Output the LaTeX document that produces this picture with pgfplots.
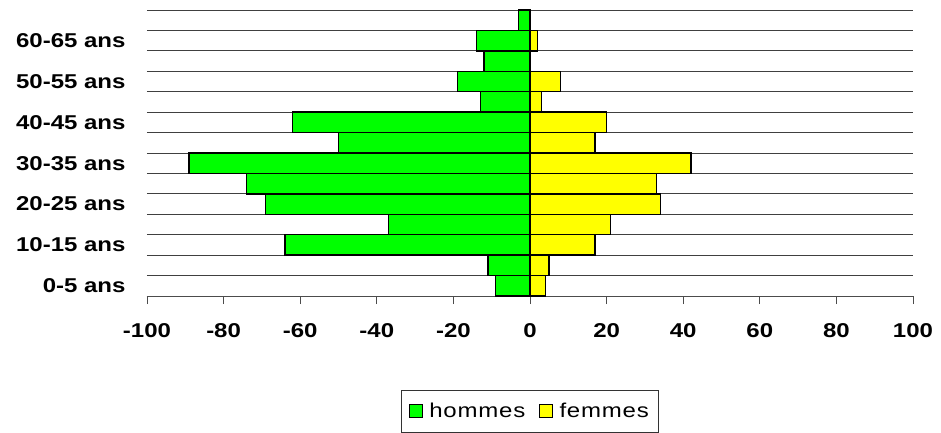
\documentclass[border=0pt]{standalone}
\usepackage{pgfplots}
\pgfplotsset{compat=1.18}
\usepackage{fontspec}
\setmainfont{Liberation Sans}[FakeStretch=1.2]
\definecolor{hgreen}{HTML}{00FF00}
\definecolor{fyellow}{HTML}{FFFF00}
\begin{document}
\begin{tikzpicture}
\begin{axis}[
  name=ax,
  scale only axis,
  width=766bp, height=286bp,
  xbar, bar width=1, bar shift=0pt,
  xmin=-100, xmax=100,
  ymin=-0.5, ymax=13.5,
  xtick={-100,-80,...,100},
  xticklabels={-100,-80,-60,-40,-20,0,20,40,60,80,100},
  ytick={0,2,4,6,8,10,12},
  yticklabels={0-5 ans,10-15 ans,20-25 ans,30-35 ans,40-45 ans,50-55 ans,60-65 ans},
  minor ytick={-0.5,0.5,...,13.5},
  yminorgrids,
  minor y grid style={draw=black!75, line width=0.9bp},
  axis x line*=bottom,
  axis y line*=left,
  y axis line style={draw=none},
  x axis line style={draw=black!70, line width=0.9bp, -},
  tick align=outside,
  major tick length=8bp,
  minor tick length=0pt,
  xtick style={draw=black!70, line width=0.9bp},
  ytick style={draw=none},
  xticklabel style={font=\fontsize{20bp}{24bp}\selectfont\bfseries, yshift=-16bp},
  yticklabel style={font=\fontsize{20bp}{24bp}\selectfont\bfseries, xshift=-10bp},
  legend columns=2,
  legend style={at={(0.5,-0.3287)}, anchor=north, draw=black!80, line width=0.8bp,
    font=\fontsize{20bp}{24bp}\selectfont\addfontfeature{LetterSpace=4},
    inner xsep=8bp, inner ysep=11bp,
    /tikz/every even column/.append style={column sep=12bp}},
  legend image code/.code={\draw[#1, line width=1bp] (0bp,-6.5bp) rectangle (13bp,6.5bp); \path (17bp,0bp);},
]
\addplot[fill=hgreen, draw=black, line width=1.4bp] coordinates {
 (-9,0) (-11,1) (-64,2) (-37,3) (-69,4) (-74,5) (-89,6)
 (-50,7) (-62,8) (-13,9) (-19,10) (-12,11) (-14,12) (-3,13)};
\addlegendentry{hommes}
\addplot[fill=fyellow, draw=black, line width=1.4bp] coordinates {
 (4,0) (5,1) (17,2) (21,3) (34,4) (33,5) (42,6)
 (17,7) (20,8) (3,9) (8,10) (0,11) (2,12) (0,13)};
\addlegendentry{femmes}
\end{axis}
\path ([shift={(-147bp,-136bp)}]ax.south west) rectangle ([shift={(794bp,296bp)}]ax.south west);
\end{tikzpicture}
\end{document}
